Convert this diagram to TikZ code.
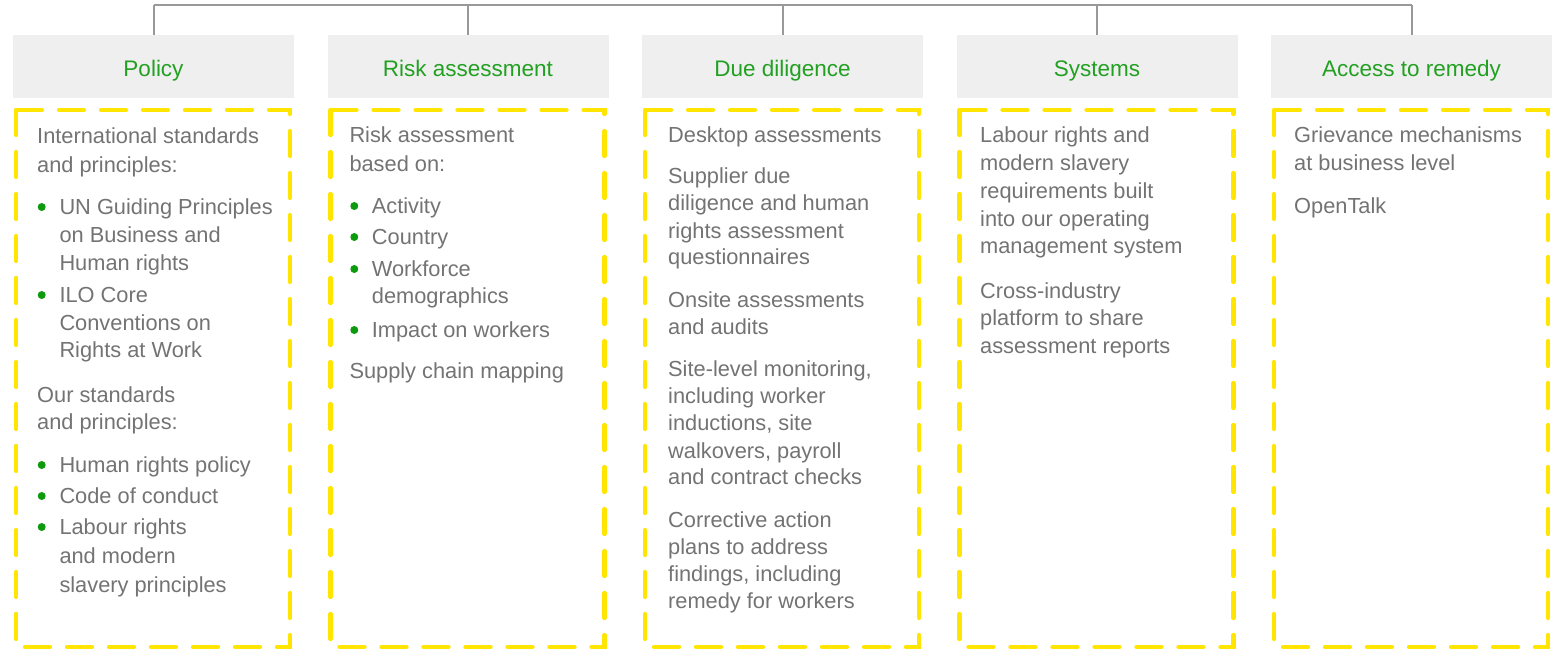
\documentclass[tikz,border=0pt]{standalone}
\usepackage{fontspec}
\setmainfont{Liberation Sans}
\definecolor{hdrfill}{HTML}{EFEFEF}
\definecolor{hdrgreen}{HTML}{22A022}
\definecolor{bulgreen}{HTML}{0E9A0E}
\definecolor{txtgray}{HTML}{737373}
\definecolor{dashyel}{HTML}{FFE500}
\definecolor{conngray}{HTML}{999999}
\tikzset{
  hdr/.style={rectangle, fill=hdrfill, draw=none, minimum width=281pt, minimum height=63pt, inner sep=0pt},
  htxt/.style={anchor=base, inner sep=0pt, text=hdrgreen, font=\fontsize{22.5}{27}\selectfont},
  txt/.style={anchor=base west, inner sep=0pt, text=txtgray, font=\fontsize{21.8}{26}\selectfont},
  conn/.style={draw=conngray, line width=2pt},
  yelbox/.style={draw=dashyel, line width=4.3pt, line cap=round, dash pattern=on 25pt off 17pt},
  bul/.style={fill=bulgreen}
}
\newcommand\tl[4]{\node[txt] (#1) at (#2,#3) {#4};}
\newcommand\bu[2]{\fill[bul] (#1,#2-7) circle (4pt);}
\begin{document}
\begin{tikzpicture}[x=1pt,y=-1pt]
\useasboundingbox (0,0) rectangle (1553,649);
% headers
\foreach \i/\cx in {1/153.5,2/468,3/782.5,4/1097,5/1411.5}{
  \node[hdr] (h\i) at (\cx,66.5) {};
  \coordinate (t\i) at (\cx,5);
}
\node[htxt] (h1t) at (153.5,76) {Policy};
\node[htxt] (h2t) at (468,76) {Risk assessment};
\node[htxt] (h3t) at (782.5,76) {Due diligence};
\node[htxt] (h4t) at (1097,76) {Systems};
\node[htxt] (h5t) at (1411.5,76) {Access to remedy};
% connectors
\draw[conn] (t1) -- (t5);
\foreach \i in {1,...,5}{ \draw[conn] (t\i) -- (h\i.north); }
% dashed boxes
\foreach \cx in {13,327.5,642,956.5,1271}{
  \draw[yelbox] (\cx+3,110) rectangle (\cx+277,647);
}
% Policy
\tl{p1}{37}{143}{International standards}
\tl{p2}{37}{172}{and principles:}
\bu{41.7}{214}\tl{p3}{59.3}{214}{UN Guiding Principles}
\tl{p4}{59.3}{242}{on Business and}
\tl{p5}{59.3}{270}{Human rights}
\bu{41.7}{302}\tl{p6}{59.3}{302}{ILO Core}
\tl{p7}{59.3}{330}{Conventions on}
\tl{p8}{59.3}{357}{Rights at Work}
\tl{p9}{37}{402}{Our standards}
\tl{p10}{37}{429}{and principles:}
\bu{41.7}{472}\tl{p11}{59.3}{472}{Human rights policy}
\bu{41.7}{503}\tl{p12}{59.3}{503}{Code of conduct}
\bu{41.7}{534}\tl{p13}{59.3}{534}{Labour rights}
\tl{p14}{59.3}{563}{and modern}
\tl{p15}{59.3}{592}{slavery principles}
% Risk assessment
\tl{r1}{349.3}{142}{Risk assessment}
\tl{r2}{349.3}{171}{based on:}
\bu{354.3}{213}\tl{r3}{371.7}{213}{Activity}
\bu{354.3}{244}\tl{r4}{371.7}{244}{Country}
\bu{354.3}{276}\tl{r5}{371.7}{276}{Workforce}
\tl{r6}{371.7}{303}{demographics}
\bu{354.3}{337}\tl{r7}{371.7}{337}{Impact on workers}
\tl{r8}{349.3}{378}{Supply chain mapping}
% Due diligence
\tl{d1}{668}{142}{Desktop assessments}
\tl{d2}{668}{183}{Supplier due}
\tl{d3}{668}{210}{diligence and human}
\tl{d4}{668}{238}{rights assessment}
\tl{d5}{668}{264}{questionnaires}
\tl{d6}{668}{307}{Onsite assessments}
\tl{d7}{668}{334}{and audits}
\tl{d8}{668}{376}{Site-level monitoring,}
\tl{d9}{668}{403}{including worker}
\tl{d10}{668}{430}{inductions, site}
\tl{d11}{668}{458}{walkovers, payroll}
\tl{d12}{668}{484}{and contract checks}
\tl{d13}{668}{527}{Corrective action}
\tl{d14}{668}{554}{plans to address}
\tl{d15}{668}{581}{findings, including}
\tl{d16}{668}{608}{remedy for workers}
% Systems
\tl{s1}{980}{142}{Labour rights and}
\tl{s2}{980}{170}{modern slavery}
\tl{s3}{980}{198}{requirements built}
\tl{s4}{980}{226}{into our operating}
\tl{s5}{980}{253}{management system}
\tl{s6}{980}{298}{Cross-industry}
\tl{s7}{980}{325}{platform to share}
\tl{s8}{980}{353}{assessment reports}
% Access to remedy
\tl{a1}{1294}{142}{Grievance mechanisms}
\tl{a2}{1294}{170}{at business level}
\tl{a3}{1294}{213}{OpenTalk}
\end{tikzpicture}
\end{document}
